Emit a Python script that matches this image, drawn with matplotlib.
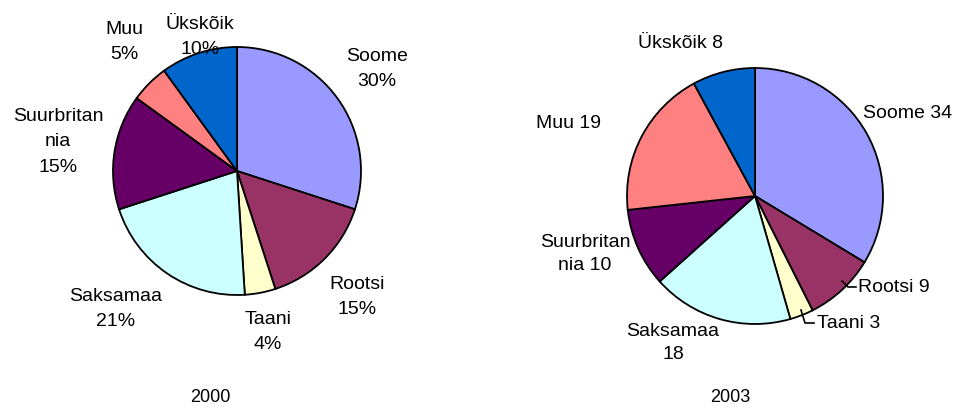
import numpy as np
import matplotlib
matplotlib.use("Agg")
import matplotlib.pyplot as plt

plt.rcParams['font.family'] = ['Liberation Sans', 'DejaVu Sans']

# andmed
names = ["Soome", "Rootsi", "Taani", "Saksamaa", "Suurbritannia", "Muu", "Ükskõik"]
share_2000 = [30, 15, 4, 21, 15, 5, 10]
count_2003 = [34, 9, 3, 18, 10, 19, 8]
labels_2000 = ["Soome\n30%", "Rootsi\n15%", "Taani\n4%", "Saksamaa\n21%",
               "Suurbritan\nnia\n15%", "Muu\n5%", "Ükskõik\n10%"]
labels_2003 = ["Soome 34", "Rootsi 9", "Taani 3", "Saksamaa\n18",
               "Suurbritan\nnia 10", "Muu 19", "Ükskõik 8"]
years = ["2000", "2003"]
colors = ["#9999FF", "#993366", "#FFFFCC", "#CCFFFF", "#660066", "#FF8080", "#0066CC"]

fig = plt.figure(figsize=(9.63, 4.08), dpi=100)
ax = fig.add_axes([0, 0, 1, 1])

# pixel coordinates, y grows downward
c1, r1 = (237, 171), 124
c2, r2 = (755, 196), 128

w1, _ = ax.pie(share_2000, colors=colors, startangle=-90, counterclock=True,
               center=c1, radius=r1, frame=True,
               wedgeprops=dict(edgecolor="black", linewidth=1.3))
w2, _ = ax.pie(count_2003, colors=colors, startangle=-90, counterclock=True,
               center=c2, radius=r2, frame=True,
               wedgeprops=dict(edgecolor="black", linewidth=1.3))

pos_2000 = [(377, 69), (357, 297), (268, 332), (116, 309), (58, 142), (124, 42), (200, 37)]
pos_2003 = [(908, 114), (894, 288), (849, 323), (673, 343), (585, 254), (568, 123), (680, 44)]

for lab, (x, y) in zip(labels_2000, pos_2000):
    ax.text(x, y, lab, ha="center", va="center", fontsize=14, linespacing=1.68)
for lab, (x, y) in zip(labels_2003, pos_2003):
    ax.text(x, y, lab, ha="center", va="center", fontsize=14, linespacing=1.5)

# leader lines: start on the slice edge, elbow, short horizontal to the label
leaders = {1: ((842, 281), (848, 287), (856, 287)),
           2: ((801, 310), (805, 323), (814, 323))}
for i, pts in leaders.items():
    xs, ys = zip(*pts)
    ax.plot(xs, ys, color="black", linewidth=1.2)

ax.text(210, 398, years[0], ha="center", va="center", fontsize=13)
ax.text(730, 398, years[1], ha="center", va="center", fontsize=13)

ax.set_xlim(0, 963)
ax.set_ylim(408, 0)
ax.axis("off")

fig.savefig("out.png", dpi=100)
